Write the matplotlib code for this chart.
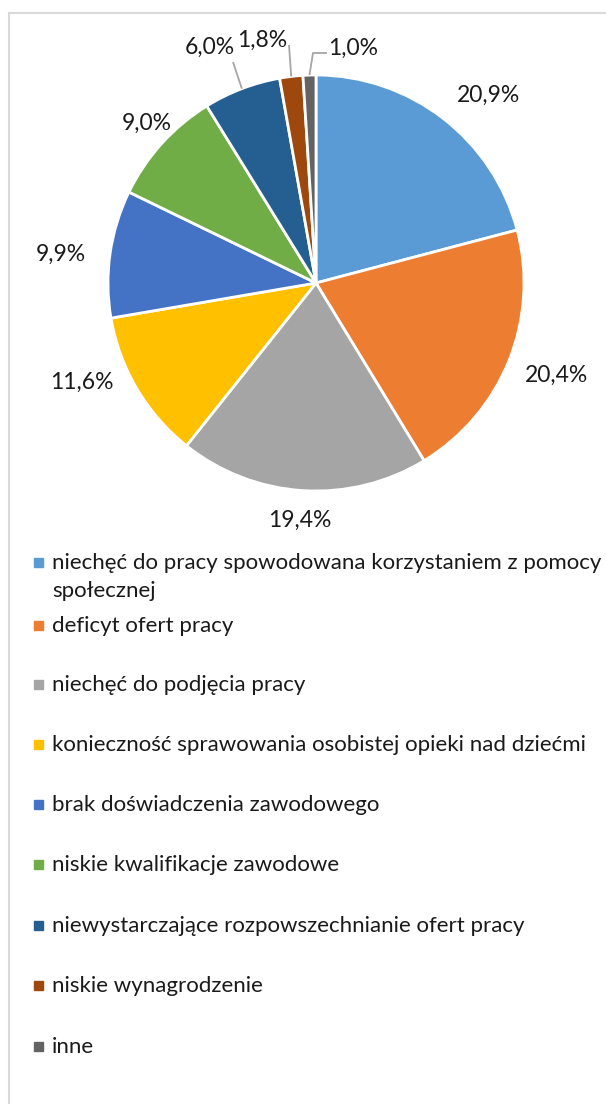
import matplotlib.pyplot as plt
from matplotlib.lines import Line2D
import numpy as np

# data
categories = [
    "niechęć do pracy spowodowana korzystaniem z pomocy\nspołecznej",
    "deficyt ofert pracy",
    "niechęć do podjęcia pracy",
    "konieczność sprawowania osobistej opieki nad dziećmi",
    "brak doświadczenia zawodowego",
    "niskie kwalifikacje zawodowe",
    "niewystarczające rozpowszechnianie ofert pracy",
    "niskie wynagrodzenie",
    "inne",
]
shares = [20.9, 20.4, 19.4, 11.6, 9.9, 9.0, 6.0, 1.8, 1.0]
colors = ["#5B9BD5", "#ED7D31", "#A5A5A5", "#FFC000", "#4472C4",
          "#70AD47", "#255E91", "#9E480E", "#636363"]

# layout (pixels of the 606x1104 picture)
W, H = 606, 1104
cx, cy, R = 316, 283, 208
label_px = [(489, 95), (556, 375), (300, 520), (82, 382), (61, 254),
            (147, 123), (210, 47), (262, 40), (353, 48)]
# leader line elbows for the small slices (index -> points in px)
leaders = {6: [(233, 62)], 7: [(289, 45)], 8: [(313, 53), (327, 53)]}
legend_y = [562, 625, 684, 744, 804, 864, 925, 985, 1046]

plt.rcParams['font.family'] = ['Lato', 'DejaVu Sans']

fig = plt.figure(figsize=(W / 100, H / 100), dpi=100)
ax = fig.add_axes([0, 0, 1, 1])


def px(x, y):
    return (x - cx) / R, (cy - y) / R


wedges, _ = ax.pie(shares, colors=colors, startangle=90, counterclock=False,
                   radius=1, center=(0, 0), frame=True,
                   wedgeprops=dict(edgecolor='white', linewidth=2))
ax.set_xlim(-cx / R, (W - cx) / R)
ax.set_ylim(-(H - cy) / R, cy / R)
ax.set_aspect('equal')
ax.axis('off')

for i, (w, v) in enumerate(zip(wedges, shares)):
    lx, ly = px(*label_px[i])
    ax.text(lx, ly, f"{v:.1f}%".replace('.', ','), ha='center', va='center',
            fontsize=16.5, color='#1a1a1a')
    if i in leaders:
        mid = np.deg2rad((w.theta1 + w.theta2) / 2)
        pts = [(np.cos(mid), np.sin(mid))] + [px(*p) for p in leaders[i]]
        xs, ys = zip(*pts)
        ax.plot(xs, ys, color='#A6A6A6', lw=1.3, solid_capstyle='butt')

# legend
for i, (lab, col) in enumerate(zip(categories, colors)):
    y = legend_y[i]
    fig.patches.append(plt.Rectangle((34 / W, 1 - (y + 4.5) / H), 9 / W, 9 / H,
                                     transform=fig.transFigure, color=col))
    fig.text(52 / W, 1 - (y - 9) / H, lab, ha='left', va='top', fontsize=16,
             color='#1a1a1a', linespacing=1.5)

# chart area border (cut at right and bottom)
fig.add_artist(Line2D([8.5 / W, 8.5 / W], [0, 1 - 12.5 / H], color='#D9D9D9', lw=1.5))
fig.add_artist(Line2D([8.5 / W, 1], [1 - 12.5 / H, 1 - 12.5 / H], color='#D9D9D9', lw=1.5))

fig.savefig('out.png', dpi=100)
